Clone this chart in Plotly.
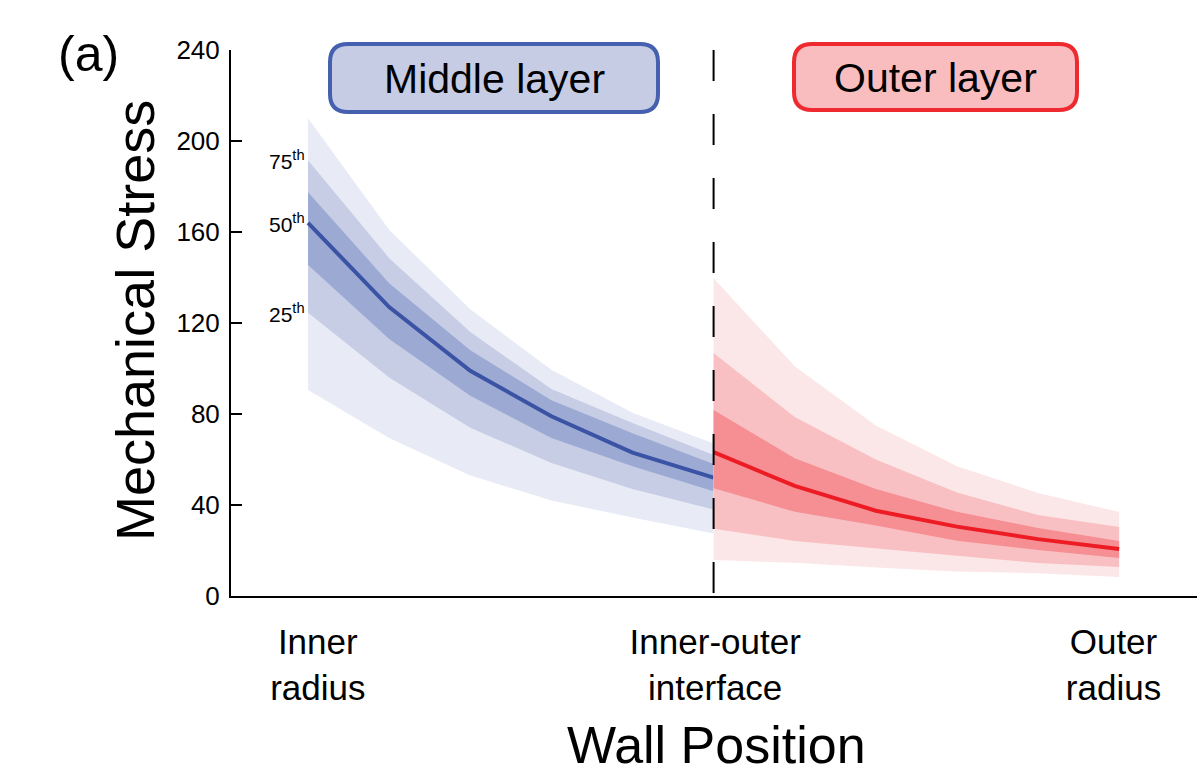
import plotly.graph_objects as go

# ---------------- data ----------------
x_middle = [0, 1, 2, 3, 4, 5]
mid_p90 = [210, 161, 126, 99.5, 80.5, 67]
mid_p75 = [191.5, 148.5, 116, 91, 76, 62]
mid_p62 = [177.5, 137.5, 108, 86, 71.5, 58]
mid_p50 = [164, 127, 99, 79, 63, 52]
mid_p38 = [145.5, 113, 88, 69.5, 57, 46]
mid_p25 = [124.5, 96, 74, 58.5, 47, 38]
mid_p10 = [90.5, 69.5, 53, 42, 34.5, 27.5]

x_outer = [5, 6, 7, 8, 9, 10]
out_p90 = [139.7, 101, 75, 57, 45.3, 36.9]
out_p75 = [106.8, 78.7, 60, 45.5, 35.6, 30.3]
out_p62 = [81.8, 60.6, 47, 37, 29.9, 24.2]
out_p50 = [63.2, 48.4, 37.5, 30.5, 25, 20.7]
out_p38 = [47.4, 37, 31, 24.3, 20.2, 16.7]
out_p25 = [29.6, 24.2, 21, 17.7, 14.5, 12.7]
out_p10 = [15.8, 14.6, 12.5, 10.8, 10, 8.4]

x_tickvals = [0.12, 5.02, 9.93]
x_ticktext = ["Inner<br>radius", "Inner-outer<br>interface", "Outer<br>radius"]
y_tickvals = [0, 40, 80, 120, 160, 200, 240]
percentile_labels = ["75<sup>th</sup>", "50<sup>th</sup>", "25<sup>th</sup>"]
percentile_values = [mid_p75[0], mid_p50[0], mid_p25[0]]
layer_names = ["Middle layer", "Outer layer"]

# ---------------- styles ----------------
FONT = "Liberation Sans, Arial, sans-serif"
BLUE = dict(light="#E8EBF5", mid="#C6CDE5", dark="#9CAAD3", line="#3A53A4",
            box="#C5CCE4", border="#4560AE")
RED = dict(light="#FCE7E8", mid="#F9C0C3", dark="#F58F93", line="#ED1C24",
           box="#F9BDBF", border="#EE2A30")

fig = go.Figure()


def band(x, lo, hi, color):
    fig.add_trace(go.Scatter(
        x=list(x) + list(x)[::-1], y=list(hi) + list(lo)[::-1],
        fill="toself", fillcolor=color, line=dict(width=0),
        mode="lines", hoverinfo="skip", showlegend=False))


for xs, p10, p25, p38, p50, p62, p75, p90, c in [
    (x_middle, mid_p10, mid_p25, mid_p38, mid_p50, mid_p62, mid_p75, mid_p90, BLUE),
    (x_outer, out_p10, out_p25, out_p38, out_p50, out_p62, out_p75, out_p90, RED),
]:
    band(xs, p10, p90, c["light"])
    band(xs, p25, p75, c["mid"])
    band(xs, p38, p62, c["dark"])
    fig.add_trace(go.Scatter(x=xs, y=p50, mode="lines",
                             line=dict(color=c["line"], width=4),
                             showlegend=False))

# layout geometry (pixels)
W, H = 1197, 777
L, R, T, B = 231, 0, 50, 181
pw, ph = W - L - R, H - T - B


def px2paper(px, py):
    return (px - L) / pw, (H - B - py) / ph


def rounded_box(x0, y0, x1, y1, r):
    def P(px, py):
        a, b = px2paper(px, py)
        return f"{a:.5f},{b:.5f}"
    return (f"M {P(x0 + r, y0)} L {P(x1 - r, y0)} Q {P(x1, y0)} {P(x1, y0 + r)} "
            f"L {P(x1, y1 - r)} Q {P(x1, y1)} {P(x1 - r, y1)} "
            f"L {P(x0 + r, y1)} Q {P(x0, y1)} {P(x0, y1 - r)} "
            f"L {P(x0, y0 + r)} Q {P(x0, y0)} {P(x0 + r, y0)} Z")


shapes = []
annotations = []
boxes = [((330, 44, 658, 112), BLUE), ((794, 44, 1077, 110), RED)]
for name, ((bx0, by0, bx1, by1), c) in zip(layer_names, boxes):
    shapes.append(dict(type="path", xref="paper", yref="paper",
                       path=rounded_box(bx0, by0, bx1, by1, 18),
                       fillcolor=c["box"], line=dict(color=c["border"], width=4)))
    cx, cy = px2paper((bx0 + bx1) / 2, (by0 + by1) / 2 + 1)
    annotations.append(dict(xref="paper", yref="paper", x=cx, y=cy, text=name,
                            showarrow=False, xanchor="center", yanchor="middle",
                            font=dict(family=FONT, size=41, color="black")))

# dashed interface line
shapes.append(dict(type="line", xref="x", yref="paper", x0=5, x1=5, y0=1, y1=0,
                   line=dict(color="black", width=2, dash="31px,33px")))

# percentile labels
for t, v in zip(percentile_labels, percentile_values):
    annotations.append(dict(xref="x", yref="y", x=x_middle[0], y=v, text=t,
                            showarrow=False, xanchor="right", yanchor="middle",
                            xshift=-1, font=dict(family=FONT, size=21, color="black")))

# axis titles / panel label
ax, ay = px2paper(135, 321)
annotations.append(dict(xref="paper", yref="paper", x=ax, y=ay, text="Mechanical Stress",
                        textangle=-90, showarrow=False, xanchor="center", yanchor="middle",
                        font=dict(family=FONT, size=54, color="black")))
wx, wy = px2paper(716, 745)
annotations.append(dict(xref="paper", yref="paper", x=wx, y=wy, text="Wall Position",
                        showarrow=False, xanchor="center", yanchor="middle",
                        font=dict(family=FONT, size=52, color="black")))
lx, ly = px2paper(88, 54)
annotations.append(dict(xref="paper", yref="paper", x=lx, y=ly, text="(a)",
                        showarrow=False, xanchor="center", yanchor="middle",
                        font=dict(family=FONT, size=50, color="black")))

fig.update_layout(
    width=W, height=H,
    margin=dict(l=L, r=R, t=T, b=B, pad=0),
    paper_bgcolor="white", plot_bgcolor="white",
    font=dict(family=FONT, color="black"),
    showlegend=False,
    shapes=shapes, annotations=annotations,
    xaxis=dict(range=[-0.95, 10.96], showgrid=False, zeroline=False,
               showline=True, linecolor="black", linewidth=2,
               tickvals=x_tickvals, ticktext=x_ticktext, ticks="",
               tickfont=dict(family=FONT, size=35, color="black"),
               ticklabelstandoff=14),
    yaxis=dict(range=[0, 240], showgrid=False, zeroline=False,
               showline=True, linecolor="black", linewidth=2,
               tickvals=y_tickvals, ticks="inside", ticklen=11, tickwidth=2,
               tickcolor="black", ticklabelstandoff=4,
               tickfont=dict(family=FONT, size=26, color="black")),
)

fig.write_html("out.html")
